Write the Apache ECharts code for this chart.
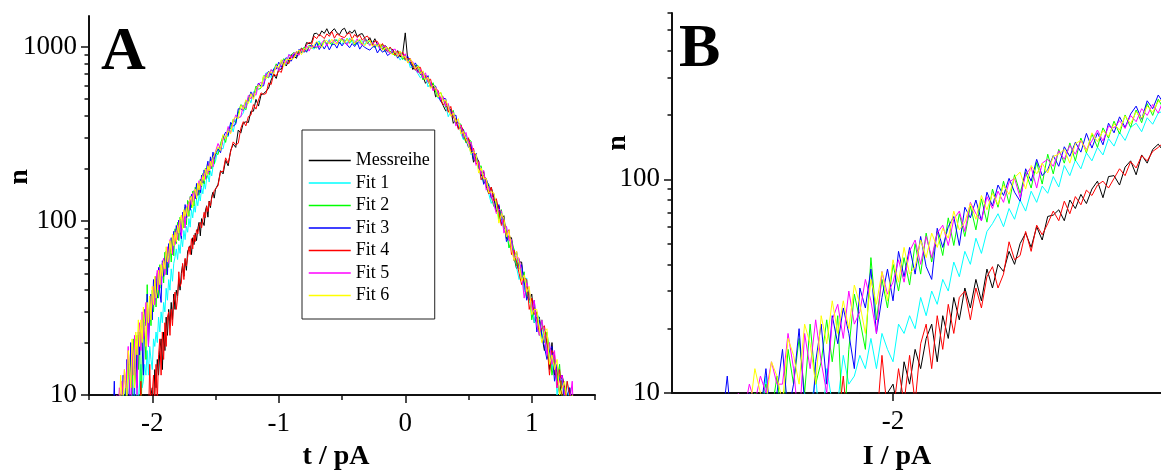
<!DOCTYPE html>
<html><head><meta charset="utf-8">
<script src="https://cdn.jsdelivr.net/npm/echarts@6/dist/echarts.min.js"></script>
<style>html,body{margin:0;padding:0;background:#fff}#c{width:1161px;height:471px}</style>
</head><body><div id="c"></div>
<script>
// ---- data ----
const seriesNames = ['Messreihe','Fit 1','Fit 2','Fit 3','Fit 4','Fit 5','Fit 6'];
const seriesColors = ['#000000','#00ffff','#00ff00','#0000ff','#ff0000','#ff00ff','#ffff00'];
const tailStart = -2.40, tailStep = 0.01;
const mainStart = -1.48, mainStep = 0.02;
const xLabelsA = [-2,-1,0,1];
const xLabelsB = [-2];
const yMinorA = [20,30,40,50,60,70,80,90,200,300,400,500,600,700,800,900];
const yMinorB = [20,30,40,50,60,70,80,90,200,300,400,500,600];

const messTail = [1,2,1,2,2,1,3,2,2,3, 2,3,2,3,3,4,3,4,3,4, 4,5,4,5,5,6,5,6,5,7, 6,7,6,8,10,7,8,9,7,10,
 11,8,14,11,16,13,18,21,14,23, 18,28,22,31,25,34,27,38,31,40, 37,46,40,50,56,48,60,52,67,68,
 72,64,80,73,85,77,90,98,82,103, 104,94,114,122,105,130,119,138,146,135, 152];
const fit1Tail = [2,3,2,4,3,3,5,4,4,5, 5,4,6,5,7,6,5,12,6,7, 8,6,9,7,10,8,12,6,13,9, 9,15,11,12,15,13,18,13,19,16,
 14,21,19,23,20,28,23,30,26,34, 30,41,35,46,40,53,45,57,62,69, 60,73,65,80,71,88,78,93,86,103,
 92,116,104,123,112,133,122,141,130,155, 143,166,152,175,183,167,194,181,204,209, 220];
const fit2Tail = [3,4,5,4,6,5,7,6,7,8, 7,9,8,9,8,10,9,11,8,12, 7,16,11,18,10,21,11,14,22,14, 23,6,16,29,22,16,43,22,34,25,
 40,30,43,32,50,36,56,41,57,44, 66,49,69,54,75,58,81,63,90,74, 98,77,105,86,108,91,120,95,131,106,
 138,119,148,122,156,133,163,141,174,156, 187,163,200,175,211,184,226,199,237,213, 246];
const fit3Tail = [4,3,5,6,4,7,5,6,8,7, 12,6,8,7,10,9,8,13,7,10, 16,8,11,20,9,5,14,21,11,23, 17,25,19,13,31,25,38,19,28,38,
 27,46,35,48,36,54,39,34,59,48, 60,67,49,74,66,80,64,87,75,94, 84,101,87,79,112,98,124,104,111,129,
 115,142,128,149,134,164,140,165,145,183, 165,196,175,202,220,191,233,214,248,226, 243];
const fit4Tail = [1,1,2,2,1,2,2,3,2,2, 3,2,3,3,4,3,4,3,4,5, 4,5,4,6,5,6,5,7,6,6, 7,12,6,8,7,9,8,7,15,8,
 8,13,9,15,9,17,21,13,23,16, 26,19,28,30,22,31,25,35,39,31, 36,51,42,44,57,46,61,55,62,71,
 64,79,69,83,76,89,84,94,98,91, 101,112,104,121,113,129,122,135,141,149, 150];
const fit5Tail = [3,5,4,6,5,4,7,6,8,7, 8,7,10,8,11,9,12,10,14,11, 11,19,13,7,19,13,22,14,10,22, 26,18,30,21,24,34,27,19,37,29,
 33,42,33,46,52,40,54,43,56,61, 49,65,71,57,78,69,64,83,73,88, 78,97,101,82,105,114,91,119,124,115,
 136,124,144,131,152,138,151,170,151,177, 174,188,173,199,186,214,199,224,204,237, 237];
const fit6Tail = [4,5,3,6,5,7,6,8,7,6, 9,8,7,9,8,13,10,9,14,12, 9,18,15,11,21,17,11,23,17,27, 19,27,20,32,26,19,34,26,37,27,
 42,33,48,36,39,52,43,56,48,59, 53,71,58,63,77,65,84,72,86,76, 94,85,102,108,90,116,106,119,107,128,
 131,138,119,147,152,135,165,150,169,159, 182,170,198,182,207,193,220,206,231,238, 244];

const messMain = [162,194,186,223,207,254,276,264,332,319, 366,370,367,426,426,498,456,529,538,554,
 578,644,694,657,746,741,804,775,840,902, 882,857,946,980,954,1057,1039,1060,1189,1193,
 1154,1232,1192,1268,1179,1229,1268,1201,1172,1251, 1276,1184,1228,1195,1249,1146,1177,1189,1118,1075,
 1126,1044,1111,1022,1028,962,1017,982,927,970, 903,949,871,915,1200,833,814,739,783,713,
 731,675,616,641,585,609,515,532,493,459, 428,441,435,363,383,342,344,296,298,295,
 265,217,234,220,181,192,158,143,156,136, 113,122,101,107,79,81,80,62,53,58,
 58,40,42,35,38,26,28,28,22,18, 21,14,20,13,14,10,13,11,8,11,9,7];
const fit1Main = [262,262,259,306,304,361,324,382,388,398, 417,471,512,476,551,549,608,586,649,709,
 689,663,750,782,753,834,797,799,902,888, 866,933,913,983,924,976,1021,979,969,1048,
 1079,1013,1062,1044,1101,1028,1073,1101,1052,1029, 1098,1038,1123,1055,1081,1024,1096,1074,1027,1089,
 1021,1069,995,1041,952,1002,996,928,991,926, 932,889,837,880,830,862,757,781,736,700,
 662,683,679,587,618,565,569,504,509,506, 458,396,424,408,355,370,318,292,313,281,
 240,250,212,220,172,175,173,143,126,135, 132,102,104,90,93,70,72,69,54,46,
 53,39,47,34,34,26,30,27,21,24, 17,20,14,17,10,13,12,9,12,9,8,9];
const fit2Main = [240,278,309,282,339,337,383,365,416,465, 452,434,508,538,518,594,569,579,680,677,
 662,733,721,797,745,802,854,815,808,897, 930,882,935,931,993,937,990,1027,993,982,
 1055,1005,1095,1035,1067,1020,1098,1084,1043,1115, 1055,1115,1046,1106,1021,1084,1087,1023,1102,1039,
 1080,1036,986,1033,984,1033,934,974,938,911, 887,924,935,843,895,835,846,770,780,781,
 722,644,686,668,597,621,550,513,547,501, 448,466,416,431,360,363,359,310,280,293,
 287,229,231,203,207,165,167,163,137,121, 129,102,116,91,89,70,78,68,55,60,
 46,51,36,40,27,32,29,22,27,20, 23,18,13,16,12,15,9,11,9,8,10,8];
const fit3Main = [259,246,300,323,309,368,350,359,440,440, 431,490,484,550,511,567,618,593,596,685,
 723,684,743,744,815,762,821,865,834,827, 908,875,964,923,963,929,1013,1011,985,1064,
 963,1026,969,1032,958,1025,1036,981,1064,1010, 1059,1026,986,1043,1002,1062,968,1020,991,971,
 955,992,1007,920,973,929,954,889,913,929, 928,859,919,915,847,881,802,763,807,754,
 690,719,657,682,590,595,593,525,485,506, 502,426,432,395,405,339,341,335,291,264,
 274,225,245,199,194,162,175,158,135,143, 116,124,96,103,76,82,77,59,67,53,
 56,45,35,39,31,35,23,27,22,19, 16,18,19,12,15,12,13,9,10,11,7,8];
const fit4Main = [159,192,192,230,214,250,284,273,279,340, 371,351,397,405,465,438,494,543,531,539,
 620,606,701,678,731,711,804,815,799,894, 861,936,902,980,930,1023,1061,1031,1148,1112,
 1176,1151,1113,1185,1146,1222,1119,1186,1158,1140, 1127,1179,1202,1105,1175,1128,1164,1091,1127,1152,
 1094,1018,1080,1072,996,1042,969,936,996,948, 895,941,887,931,840,851,854,777,732,761,
 761,666,679,633,651,563,568,561,502,463, 484,420,454,390,385,335,355,326,287,300,
 252,261,212,220,172,183,172,143,156,130, 134,114,94,101,83,89,64,68,58,50,
 43,47,46,31,36,29,30,23,24,25, 20,13,18,17,11,14,10,9,12,10,9,6];
const fit5Main = [278,258,296,300,348,321,366,405,392,395, 463,446,525,501,543,526,611,623,611,701,
 668,740,706,782,729,810,837,799,902,862, 922,911,891,961,940,1014,943,1011,1001,998,
 997,1055,1087,1010,1084,1054,1098,1041,1086,1123, 1081,1021,1098,1106,1046,1110,1045,1023,1102,1064,
 1013,1061,1011,1057,968,994,1012,944,908,955, 970,883,911,875,910,813,824,819,752,708,
 738,659,708,626,624,557,587,549,496,517, 454,472,405,421,350,367,350,301,322,278,
 283,245,208,217,185,195,150,158,140,125, 110,117,114,85,93,77,78,61,62,61,
 50,36,44,40,30,35,25,22,27,22, 17,20,15,18,11,12,13,10,8,9,12,5];
const fit6Main = [266,254,313,296,329,316,383,393,386,459, 436,496,472,538,498,573,604,579,680,653,
 716,712,699,775,760,842,772,849,842,845, 859,918,957,900,978,960,1013,971,1025,1072,
 1038,988,1070,1086,1034,1104,1047,1033,1120,1089, 1046,1106,1063,1123,1038,1076,1104,1040,1010,1072,
 1088,1003,1035,1001,1040,954,981,990,931,896, 945,875,943,867,879,805,846,805,745,774,
 698,727,642,668,576,602,581,513,547,485, 496,449,399,416,370,386,315,326,295,271,
 243,249,242,188,201,174,175,145,147,145, 124,97,110,103,81,88,69,59,67,56,
 45,49,39,42,29,31,31,24,20,23, 24,15,17,14,16,10,11,12,9,7,10,7];

const tails = [messTail, fit1Tail, fit2Tail, fit3Tail, fit4Tail, fit5Tail, fit6Tail];
const mains = [messMain, fit1Main, fit2Main, fit3Main, fit4Main, fit5Main, fit6Main];

function pairs(tail, main) {
  const out = [];
  tail.forEach((v, i) => out.push([+(tailStart + i * tailStep).toFixed(2), v]));
  main.forEach((v, i) => out.push([+(mainStart + i * mainStep).toFixed(2), v]));
  return out;
}
const FONT = '"Liberation Serif", "Times New Roman", serif';
const AX = '#111';
const intFmt = v => (Math.abs(v - Math.round(v)) < 1e-6 ? String(Math.round(v)) : '');

const series = [];
seriesNames.forEach((name, i) => {
  const data = pairs(tails[i], mains[i]);
  [[0, 0], [2, 2]].forEach(([xi, yi]) => {
    series.push({
      name, type: 'line', xAxisIndex: xi, yAxisIndex: yi, data,
      symbol: 'none', showSymbol: false, clip: true, silent: true,
      lineStyle: { color: seriesColors[i], width: 1 },
      itemStyle: { color: seriesColors[i] }
    });
  });
});

const labelStyle = { fontFamily: FONT, fontSize: 27, color: '#000' };
const tickStyle = { color: AX, width: 1.5 };
const option = {
  animation: false,
  backgroundColor: '#ffffff',
  grid: [
    { left: 89, top: 16, width: 506, height: 379, outerBoundsMode: 'none' },
    { left: 672, top: 13, width: 489, height: 380, outerBoundsMode: 'none' },
    { left: 672, top: 13, width: 489, height: 380, outerBoundsMode: 'none' }
  ],
  xAxis: [
    { gridIndex: 0, type: 'value', min: -2.5, max: 1.5, interval: 0.5, position: 'bottom',
      axisLine: { show: true, onZero: false, lineStyle: { color: AX, width: 2 } },
      axisTick: { show: true, length: 5, lineStyle: tickStyle },
      axisLabel: Object.assign({ formatter: intFmt, margin: 15, showMinLabel: true, showMaxLabel: true }, labelStyle),
      splitLine: { show: false } },
    { gridIndex: 0, type: 'value', min: -2.5, max: 1.5, position: 'bottom',
      axisLine: { show: false, onZero: false },
      axisTick: { show: true, length: 8, customValues: xLabelsA, lineStyle: tickStyle },
      axisLabel: { show: false }, splitLine: { show: false } },
    { gridIndex: 1, type: 'value', min: -2.4, max: -1.515, position: 'bottom',
      axisLine: { show: true, onZero: false, lineStyle: { color: AX, width: 2 } },
      axisTick: { show: true, length: 8, customValues: xLabelsB, lineStyle: tickStyle },
      axisLabel: Object.assign({ customValues: xLabelsB, formatter: v => String(Math.round(v)), margin: 15 }, labelStyle),
      splitLine: { show: false } },
    { gridIndex: 2, type: 'value', min: 0, max: 1, position: 'top',
      axisLine: { show: false, onZero: false }, axisTick: { show: false },
      axisLabel: { show: false }, splitLine: { show: false } }
  ],
  yAxis: [
    { gridIndex: 0, type: 'log', logBase: 10, min: 10, max: 1500, position: 'left', interval: 1,
      axisLine: { show: true, onZero: false, lineStyle: { color: AX, width: 2 } },
      axisTick: { show: true, length: 8, lineStyle: tickStyle },
      axisLabel: Object.assign({ formatter: v => String(Math.round(v)), margin: 12, showMaxLabel: false }, labelStyle),
      splitLine: { show: false }, minorTick: { show: false } },
    { gridIndex: 0, type: 'value', min: 1, max: Math.log10(1500), position: 'left', offset: 0,
      axisLine: { show: false, onZero: false },
      axisTick: { show: true, length: 4.5, customValues: yMinorA.map(v => Math.log10(v)), lineStyle: tickStyle },
      axisLabel: { show: false }, splitLine: { show: false } },
    { gridIndex: 1, type: 'log', logBase: 10, min: 10, max: 600, position: 'left', interval: 1,
      axisLine: { show: true, onZero: false, lineStyle: { color: AX, width: 2 } },
      axisTick: { show: true, length: 8, lineStyle: tickStyle },
      axisLabel: Object.assign({ formatter: v => String(Math.round(v)), margin: 12, showMaxLabel: false }, labelStyle),
      splitLine: { show: false }, minorTick: { show: false } },
    { gridIndex: 2, type: 'value', min: 1, max: Math.log10(600), position: 'left', offset: 0,
      axisLine: { show: false, onZero: false },
      axisTick: { show: true, length: 4.5, customValues: yMinorB.map(v => Math.log10(v)), lineStyle: tickStyle },
      axisLabel: { show: false }, splitLine: { show: false } }
  ],
  legend: {
    data: seriesNames.map((n, i) => ({
      name: n,
      itemStyle: { opacity: 0 },
      lineStyle: { color: seriesColors[i], width: 1.5, opacity: 1 }
    })),
    orient: 'vertical', left: 302, top: 130,
    padding: [21.5, 5, 14.5, 6], itemGap: 4.5, itemWidth: 42, itemHeight: 14,
    borderColor: '#222', borderWidth: 1, backgroundColor: '#fff',
    selectedMode: false,
    textStyle: { fontFamily: FONT, fontSize: 18, color: '#000' }
  },
  graphic: [
    { type: 'text', x: 101, y: 53, style: { text: 'A', font: 'bold 62px ' + FONT, fill: '#000', align: 'left', verticalAlign: 'middle' } },
    { type: 'text', x: 679, y: 50, style: { text: 'B', font: 'bold 62px ' + FONT, fill: '#000', align: 'left', verticalAlign: 'middle' } },
    { type: 'text', x: 20, y: 177, rotation: Math.PI / 2, style: { text: 'n', font: 'bold 28px ' + FONT, fill: '#000', align: 'center', verticalAlign: 'middle' } },
    { type: 'text', x: 618, y: 143, rotation: Math.PI / 2, style: { text: 'n', font: 'bold 28px ' + FONT, fill: '#000', align: 'center', verticalAlign: 'middle' } },
    { type: 'text', x: 336, y: 457, style: { text: 't / pA', font: 'bold 28px ' + FONT, fill: '#000', align: 'center', verticalAlign: 'middle' } },
    { type: 'text', x: 897, y: 457, style: { text: 'I / pA', font: 'bold 28px ' + FONT, fill: '#000', align: 'center', verticalAlign: 'middle' } }
  ],
  series
};
const chart = echarts.init(document.getElementById('c'), null, { renderer: 'canvas' });
chart.setOption(option);
</script>
</body></html>
